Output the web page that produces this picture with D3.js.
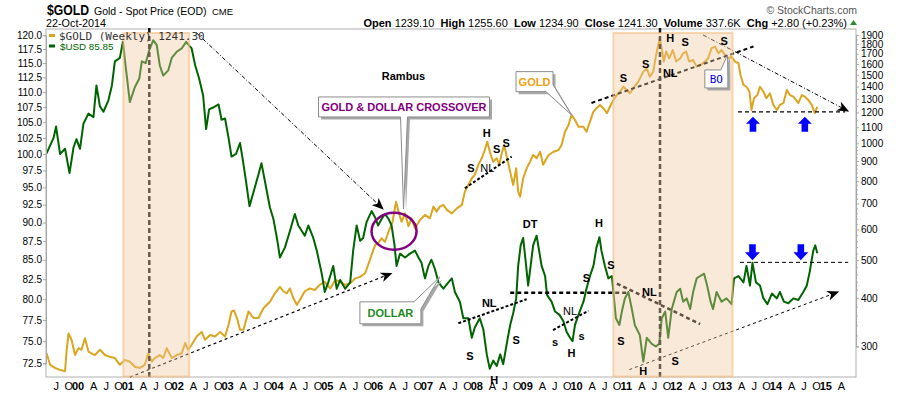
<!DOCTYPE html>
<html>
<head>
<meta charset="utf-8">
<script src="https://d3js.org/d3.v7.min.js"></script>
<style>
body { margin: 0; background: #fff; }
svg text { font-family: "Liberation Sans", Arial, sans-serif; }
</style>
</head>
<body>
<svg width="900" height="396"></svg>
<script>
// weekly gold (right log axis)
var goldDates = [1999.37,1999.44,1999.54,1999.64,1999.74,1999.77,1999.81,1999.87,1999.94,2000.01,2000.07,2000.14,2000.21,2000.27,2000.34,2000.44,2000.54,2000.64,2000.74,2000.84,2000.94,
2001.04,2001.14,2001.24,2001.34,2001.41,2001.48,2001.54,2001.64,2001.71,2001.78,2001.88,2001.98,2002.08,2002.15,2002.21,2002.28,2002.38,2002.48,2002.55,2002.65,2002.75,2002.85,2002.95,
2003.02,2003.08,2003.13,2003.20,2003.25,2003.32,2003.42,2003.52,2003.62,2003.72,2003.85,2003.95,2004.05,2004.12,2004.19,2004.25,2004.32,2004.39,2004.45,2004.55,2004.65,2004.75,2004.85,2004.95,
2005.06,2005.16,2005.26,2005.36,2005.46,2005.56,2005.66,2005.76,2005.82,2005.89,2005.96,2006.02,2006.09,2006.16,2006.23,2006.31,2006.38,2006.43,2006.49,2006.56,2006.63,2006.69,2006.76,2006.86,2006.96,
2007.06,2007.13,2007.19,2007.26,2007.33,2007.40,2007.50,2007.60,2007.70,2007.76,2007.83,2007.90,2007.96,2008.03,2008.10,2008.16,2008.21,2008.28,2008.33,2008.40,2008.45,2008.50,2008.55,2008.60,2008.67,2008.73,2008.79,2008.83,2008.87,2008.93,
2009.00,2009.07,2009.13,2009.20,2009.27,2009.33,2009.44,2009.54,2009.64,2009.70,2009.77,2009.84,2009.90,2009.97,2010.04,2010.14,2010.20,2010.27,2010.34,2010.40,2010.47,2010.54,2010.61,2010.67,2010.74,2010.81,2010.87,2010.94,
2011.01,2011.07,2011.14,2011.24,2011.34,2011.41,2011.47,2011.54,2011.59,2011.64,2011.67,2011.71,2011.75,2011.80,2011.86,2011.93,2012.00,2012.08,2012.14,2012.20,2012.26,2012.34,2012.41,2012.49,2012.58,2012.64,2012.71,2012.78,2012.85,2012.91,2012.98,
2013.05,2013.11,2013.18,2013.25,2013.29,2013.35,2013.41,2013.47,2013.51,2013.56,2013.63,2013.68,2013.75,2013.81,2013.88,2013.95,2014.02,2014.08,2014.15,2014.22,2014.28,2014.35,2014.45,2014.52,2014.58,2014.65,2014.72,2014.78,2014.83];
var goldValues = [288,269,264,261,259,291,324,312,285,297,294,315,291,288,285,294,285,282,280,269,277,
274,266,264,269,288,274,280,285,280,297,280,285,288,306,294,303,318,327,312,321,318,327,318,
341,369,371,351,331,331,369,355,355,376,391,411,427,416,411,423,399,384,395,416,423,419,432,440,
423,445,440,432,436,449,453,463,486,516,547,553,569,558,592,628,707,667,628,660,612,641,604,635,654,
641,687,667,687,694,674,660,680,694,750,781,813,829,880,915,961,1009,933,897,915,880,942,990,924,845,781,862,750,729,813,
862,897,933,915,951,880,933,951,961,990,1071,1115,1183,1148,1103,1103,1071,1137,1206,1231,1255,1231,1195,1242,1293,1331,1357,1398,
1371,1345,1385,1441,1529,1560,1484,1529,1671,1791,1862,1757,1623,1722,1655,1738,1623,1655,1705,1722,1623,1638,1575,1591,1623,1655,1757,1773,1705,1738,1688,
1655,1671,1623,1607,1499,1413,1398,1357,1218,1306,1331,1398,1357,1306,1345,1255,1218,1255,1268,1371,1331,1318,1268,1331,1318,1293,1255,1195,1241.3];

// US dollar index (left log axis)
var usdDates = [1999.37,1999.51,1999.56,1999.64,1999.74,1999.83,1999.91,1999.97,2000.04,2000.11,2000.21,2000.31,2000.37,2000.44,2000.51,2000.61,2000.68,2000.74,2000.84,2000.90,2000.96,
2001.04,2001.14,2001.23,2001.28,2001.36,2001.43,2001.51,2001.58,2001.64,2001.71,2001.81,2001.88,2001.98,2002.08,2002.17,2002.25,2002.28,2002.35,2002.43,2002.51,2002.57,2002.63,2002.71,2002.82,2002.88,2002.95,
2003.02,2003.08,2003.17,2003.25,2003.30,2003.37,2003.44,2003.52,2003.62,2003.68,2003.75,2003.85,2003.92,2004.00,2004.05,2004.15,2004.25,2004.35,2004.42,2004.55,2004.62,2004.72,2004.79,2004.89,2004.95,
2005.02,2005.12,2005.19,2005.26,2005.36,2005.46,2005.52,2005.59,2005.66,2005.72,2005.79,2005.89,2005.96,2006.02,2006.09,2006.16,2006.23,2006.29,2006.35,2006.39,2006.46,2006.56,2006.66,2006.76,2006.83,2006.89,2006.96,
2007.03,2007.09,2007.16,2007.23,2007.33,2007.43,2007.50,2007.56,2007.66,2007.73,2007.83,2007.90,2007.96,2008.06,2008.13,2008.20,2008.26,2008.33,2008.40,2008.47,2008.53,2008.60,2008.67,2008.73,2008.79,2008.83,2008.88,2008.93,2008.99,
2009.03,2009.08,2009.13,2009.20,2009.25,2009.30,2009.37,2009.41,2009.50,2009.57,2009.66,2009.74,2009.80,2009.87,2009.92,2009.97,2010.04,2010.14,2010.20,2010.27,2010.34,2010.40,2010.46,2010.50,2010.57,2010.64,2010.71,2010.74,2010.79,2010.86,2010.91,2010.97,
2011.04,2011.11,2011.17,2011.27,2011.34,2011.41,2011.51,2011.59,2011.66,2011.71,2011.78,2011.84,2011.91,2012.01,2012.08,2012.14,2012.21,2012.28,2012.34,2012.41,2012.48,2012.56,2012.62,2012.69,2012.74,2012.81,2012.91,
2013.01,2013.11,2013.16,2013.25,2013.35,2013.41,2013.48,2013.53,2013.60,2013.68,2013.75,2013.83,2013.92,2014.02,2014.08,2014.16,2014.25,2014.35,2014.45,2014.55,2014.62,2014.68,2014.75,2014.79,2014.83];
var usdValues = [100.1,102.5,104.3,100.0,100.8,97.1,101.0,102.3,100.8,104.8,106.4,105.8,111.1,107.6,106.7,108.6,111.1,115.3,115.9,118.8,114.1,
108.3,110.8,112.3,115.3,115.0,117.3,119.1,118.2,114.6,112.8,113.7,115.9,117.0,117.6,118.8,117.9,117.6,114.6,112.3,109.4,103.9,107.1,107.4,107.9,105.4,105.6,
102.5,99.6,100.0,101.7,99.4,95.9,92.3,94.3,96.9,98.6,95.9,92.1,90.5,87.5,85.3,86.6,88.8,91.2,89.6,88.2,89.6,87.9,86.2,83.2,80.9,
82.1,84.2,81.3,82.4,81.3,82.1,86.2,89.6,87.5,87.9,90.1,91.6,90.7,89.6,90.5,91.2,90.5,89.6,86.9,84.2,85.8,85.3,85.8,86.2,85.3,84.6,82.6,
84.2,85.0,83.8,82.1,81.3,82.1,82.6,80.9,79.7,77.7,77.7,75.4,76.6,77.7,76.4,73.5,71.9,72.8,72.2,73.5,72.4,74.7,76.9,78.3,80.1,84.2,86.9,87.9,84.2,
81.7,84.2,86.9,88.2,86.2,84.2,82.9,80.5,79.7,78.5,78.1,77.3,76.1,75.4,75.0,76.9,78.1,79.7,81.3,82.9,84.2,86.6,88.0,86.2,84.2,82.6,82.9,80.9,77.7,76.9,78.5,80.1,
80.9,78.8,76.9,75.7,72.7,75.4,74.7,74.4,74.7,77.7,78.5,75.4,78.8,80.9,81.3,79.7,80.1,78.8,80.9,82.6,82.9,83.2,81.7,79.7,78.8,80.9,79.7,
80.1,79.4,82.6,82.9,82.1,84.2,81.7,84.6,82.1,81.7,80.1,79.4,80.7,80.1,80.9,79.7,79.5,80.1,79.9,80.9,81.7,83.5,86.2,86.9,85.85];

var usdTicks = [72.5,75,77.5,80,82.5,85,87.5,90,92.5,95,97.5,100,102.5,105,107.5,110,112.5,115,117.5,120];
var goldTicks = [300,400,500,600,700,800,900,1000,1100,1200,1300,1400,1500,1600,1700,1800,1900];
// quarterly labels from Jul 1999 to Apr 2015
var xTickLabels = ["J","O","00","A","J","O","01","A","J","O","02","A","J","O","03","A","J","O","04","A","J","O","05","A","J","O","06","A","J","O","07",
"A","J","O","08","A","J","O","09","A","J","O","10","A","J","O","11","A","J","O","12","A","J","O","13","A","J","O","14","A","J","O","15","A"];

// annotations (year, value on gold "g" or dollar "u" scale)
var shadedSpans = [[2000.91, 2002.23], [2010.74, 2013.13]];
var markerYears = [2001.43, 2011.675];
var trendLines = [
  {a:[2002.37,120.5], b:[2006.12,91.9], s:"u", w:1, dash:"4,2,1,2", arrow:1},
  {a:[2001.04,250], b:[2006.29,462.8], s:"g", w:1.2, dash:"3,3", arrow:1},
  {a:[2010.30,1270], b:[2013.55,1775], s:"g", w:2, dash:"4,3"},
  {a:[2012.54,1900], b:[2015.45,1210], s:"g", w:1, dash:"4,2,1,2", arrow:1},
  {a:[2013.24,1204], b:[2015.39,1204], s:"g", w:1.2, dash:"4,3"},
  {a:[2013.28,84.66], b:[2015.45,84.66], s:"u", w:1, dash:"4,3"},
  {a:[2011.06,71.8], b:[2015.25,80.9], s:"u", w:1, dash:"3,3", arrow:1},
  {a:[2010.81,81.95], b:[2012.48,77.0], s:"u", w:2.5, dash:"4,3"},
  {a:[2008.67,80.8], b:[2011.01,80.8], s:"u", w:2.5, dash:"4,3"},
  {a:[2007.63,77.1], b:[2009.00,80.0], s:"u", w:2, dash:"3,2"},
  {a:[2009.53,76.3], b:[2010.24,78.6], s:"u", w:2, dash:"3,2"},
  {a:[2007.76,766], b:[2008.70,924], s:"g", w:2, dash:"3,2"}
];
var patternLabels = [
  {t:"H",yr:2008.20,v:1061,s:"g"},{t:"S",yr:2007.88,v:862,s:"g"},{t:"S",yr:2008.40,v:965,s:"g"},{t:"S",yr:2008.59,v:1000,s:"g"},
  {t:"NL",yr:2008.21,v:862,s:"g",thin:1},
  {t:"S",yr:2010.94,v:1470,s:"g"},{t:"S",yr:2011.39,v:1597,s:"g"},{t:"H",yr:2011.88,v:1863,s:"g"},{t:"S",yr:2012.18,v:1826,s:"g"},
  {t:"S",yr:2012.96,v:1834,s:"g"},{t:"NL",yr:2011.88,v:1519,s:"g"},
  {t:"NL",yr:2008.25,v:79.5,s:"u"},{t:"S",yr:2007.86,v:73.3,s:"u"},{t:"S",yr:2008.79,v:75.1,s:"u"},{t:"H",yr:2008.35,v:70.6,s:"u"},
  {t:"DT",yr:2009.07,v:89.8,s:"u"},{t:"s",yr:2009.57,v:74.9,s:"u"},{t:"NL",yr:2009.87,v:78.6,s:"u",thin:1},{t:"s",yr:2010.10,v:75.6,s:"u"},
  {t:"H",yr:2009.90,v:73.6,s:"u"},{t:"S",yr:2010.20,v:82.6,s:"u"},{t:"H",yr:2010.45,v:89.9,s:"u"},{t:"S",yr:2010.69,v:84.3,s:"u"},
  {t:"S",yr:2010.89,v:75.0,s:"u"},{t:"NL",yr:2011.46,v:80.9,s:"u"},{t:"H",yr:2011.34,v:71.6,s:"u"},{t:"S",yr:2011.98,v:72.7,s:"u"},
  {t:"Rambus",yr:2006.53,v:112.7,s:"u"}
];
var upArrows = [[2013.54,1171],[2014.58,1171]];
var downArrows = [[2013.53,84.95],[2014.50,84.95]];
var callouts = [
  {text:"GOLD & DOLLAR CROSSOVER", color:"#800080", yr:2006.53, v:91.9, s:"u", dx:-85, dy:-112, w:171, h:20, tail:"bottom", t1:82, t2:89},
  {text:"GOLD", color:"#f0a010", yr:2009.90, v:1183, s:"g", dx:-55.5, dy:-43.3, w:37, h:20, tail:"br"},
  {text:"DOLLAR", color:"#1f8a1f", yr:2007.26, v:82.8, s:"u", dx:-80, dy:25, w:61, h:22, tail:"tr"},
  {text:"BO", color:"#0000ff", yr:2013.03, v:1688, s:"g", dx:-22.7, dy:15, w:23, h:18, tail:"tr", mono:1}
];

var svg = d3.select("svg");
var L = 46, R = 856, T = 29, B = 377;

var x = d3.scaleLinear().domain([2000, 2015]).range([78, 825.75]);
var yU = d3.scaleLog().domain([72.5, 120]).range([363.3, 35.3]);
var yG = d3.scaleLog().domain([300, 1900]).range([346.4, 35]);
function yS(s, v) { return s == "g" ? yG(v) : yU(v); }

var defs = svg.append("defs");
defs.append("clipPath").attr("id", "plot").append("rect")
  .attr("x", L).attr("y", T).attr("width", R - L).attr("height", B - T);
defs.append("marker").attr("id", "arr").attr("viewBox", "0 0 12 10")
  .attr("refX", 11).attr("refY", 5).attr("markerWidth", 12).attr("markerHeight", 10)
  .attr("markerUnits", "userSpaceOnUse").attr("orient", "auto")
  .append("path").attr("d", "M0,0 L12,5 L0,10 L3.5,5 Z").attr("fill", "#000");

svg.append("rect").attr("x", L).attr("y", T).attr("width", R - L).attr("height", B - T)
  .attr("fill", "#fff").attr("stroke", "#b0b0b0");

// price lines
var gold = goldDates.map(function(d, i) { return [d, goldValues[i]]; });
var usd = usdDates.map(function(d, i) { return [d, usdValues[i]]; });

svg.append("path").datum(gold)
  .attr("d", d3.line().x(function(d) { return x(d[0]); }).y(function(d) { return yG(d[1]); }))
  .attr("fill", "none").attr("stroke", "#daa520").attr("stroke-width", 2)
  .attr("stroke-linejoin", "round").attr("clip-path", "url(#plot)");
svg.append("path").datum(usd)
  .attr("d", d3.line().x(function(d) { return x(d[0]); }).y(function(d) { return yU(d[1]); }))
  .attr("fill", "none").attr("stroke", "#006400").attr("stroke-width", 2)
  .attr("stroke-linejoin", "round").attr("clip-path", "url(#plot)");

// trend lines
svg.selectAll("line.trend").data(trendLines).enter().append("line").attr("class", "trend")
  .attr("x1", function(d) { return x(d.a[0]); }).attr("y1", function(d) { return yS(d.s, d.a[1]); })
  .attr("x2", function(d) { return x(d.b[0]); }).attr("y2", function(d) { return yS(d.s, d.b[1]); })
  .attr("stroke", "#000").attr("stroke-width", function(d) { return d.w; })
  .attr("stroke-dasharray", function(d) { return d.dash; })
  .attr("marker-end", function(d) { return d.arrow ? "url(#arr)" : null; });

svg.selectAll("line.vmark").data(markerYears).enter().append("line").attr("class", "vmark")
  .attr("x1", function(d) { return x(d); }).attr("x2", function(d) { return x(d); })
  .attr("y1", T - 1).attr("y2", B)
  .attr("stroke", "#111").attr("stroke-width", 2.5).attr("stroke-dasharray", "5,3");

// shaded periods laid over the lines
svg.selectAll("rect.span").data(shadedSpans).enter().append("rect").attr("class", "span")
  .attr("x", function(d) { return x(d[0]); }).attr("y", T + 4)
  .attr("width", function(d) { return x(d[1]) - x(d[0]); }).attr("height", B - T - 4.5)
  .attr("fill", "rgb(240,200,160)").attr("fill-opacity", 0.4)
  .attr("stroke", "rgb(245,190,130)").attr("stroke-opacity", 0.6).attr("stroke-width", 2);

// crossover ring
svg.append("ellipse").attr("cx", x(2006.34)).attr("cy", yU(88.8)).attr("rx", 22.5).attr("ry", 18.5)
  .attr("fill", "none").attr("stroke", "#800080").attr("stroke-width", 2.5);

// pattern labels
svg.selectAll("text.lab").data(patternLabels).enter().append("text").attr("class", "lab")
  .attr("x", function(d) { return x(d.yr); }).attr("y", function(d) { return yS(d.s, d.v); })
  .attr("dy", "0.35em").attr("text-anchor", "middle")
  .attr("font-size", 11).attr("font-weight", function(d) { return d.thin ? "normal" : "bold"; })
  .attr("fill", "#000").text(function(d) { return d.t; });

// blue arrows
svg.selectAll("path.up").data(upArrows).enter().append("path").attr("class", "up")
  .attr("transform", function(d) { return "translate(" + x(d[0]) + "," + yG(d[1]) + ")"; })
  .attr("d", "M0,0 L7,7 L3.3,7 L3.3,15 L-3.3,15 L-3.3,7 L-7,7 Z").attr("fill", "#0000ff");
svg.selectAll("path.down").data(downArrows).enter().append("path").attr("class", "down")
  .attr("transform", function(d) { return "translate(" + x(d[0]) + "," + yU(d[1]) + ")"; })
  .attr("d", "M0,0 L7.5,-8 L3.3,-8 L3.3,-16 L-3.3,-16 L-3.3,-8 L-7.5,-8 Z").attr("fill", "#0000ff");

// callouts
function calloutPath(c, bx, by, tx, ty) {
  var w = c.w, h = c.h;
  if (c.tail == "bottom")
    return "M" + bx + "," + by + "H" + (bx + w) + "V" + (by + h) + "H" + (bx + c.t2) + "L" + tx + "," + ty +
      "L" + (bx + c.t1) + "," + (by + h) + "H" + bx + "Z";
  if (c.tail == "br")
    return "M" + bx + "," + by + "H" + (bx + w) + "V" + (by + h - 7) + "L" + tx + "," + ty +
      "L" + (bx + w - 7) + "," + (by + h) + "H" + bx + "Z";
  return "M" + bx + "," + by + "H" + (bx + w - 7) + "L" + tx + "," + ty + "L" + (bx + w) + "," + (by + 7) +
    "V" + (by + h) + "H" + bx + "Z";
}
callouts.forEach(function(c) {
  var tx = x(c.yr), ty = yS(c.s, c.v);
  var bx = tx + c.dx, by = ty + c.dy;
  var g = svg.append("g");
  g.append("path").attr("d", calloutPath(c, bx, by, tx, ty)).attr("transform", "translate(2.5,2.5)")
    .attr("fill", "#a8a8a8");
  g.append("path").attr("d", calloutPath(c, bx, by, tx, ty))
    .attr("fill", "#fff").attr("stroke", "#8c8c8c").attr("stroke-width", 1);
  g.append("text").attr("x", bx + c.w / 2).attr("y", by + c.h / 2).attr("dy", "0.36em")
    .attr("text-anchor", "middle").attr("font-size", 11)
    .attr("font-weight", c.mono ? "normal" : "bold")
    .style("font-family", c.mono ? "'DejaVu Sans Mono', monospace" : null)
    .attr("fill", c.color).text(c.text);
});

// axes
var axL = svg.append("g").attr("transform", "translate(" + L + ",0)")
  .call(d3.axisLeft(yU).tickValues(usdTicks).tickFormat(d3.format(".1f")).tickSize(3).tickPadding(1));
var axR = svg.append("g").attr("transform", "translate(" + R + ",0)")
  .call(d3.axisRight(yG).tickValues(goldTicks).tickFormat(d3.format("d")).tickSize(3).tickPadding(2));
var minor = d3.range(320, 1000, 20).filter(function(v) { return v % 100; })
  .concat(d3.range(1050, 1900, 100));
svg.append("g").attr("transform", "translate(" + R + ",0)")
  .call(d3.axisRight(yG).tickValues(minor).tickFormat("").tickSize(2))
  .select(".domain").remove();
[axL, axR].forEach(function(a) {
  a.select(".domain").attr("stroke", "#a8a8a8");
  a.selectAll(".tick line").attr("stroke", "#a8a8a8");
  a.selectAll("text").attr("font-size", 10).attr("fill", "#000")
    .style("font-family", "'Liberation Sans', Arial, sans-serif");
});
svg.selectAll(".tick line").attr("stroke", "#a8a8a8");

svg.selectAll("text.xl").data(xTickLabels).enter().append("text").attr("class", "xl")
  .attr("x", function(d, i) { return x(1999.5 + i * 0.25) + (d.length == 2 ? 0 : 3.2); })
  .attr("y", 389.5).attr("text-anchor", "middle").attr("font-size", 11)
  .attr("font-weight", function(d) { return d.length == 2 ? "bold" : "normal"; })
  .text(function(d) { return d; });

// legend
svg.append("line").attr("x1", 49).attr("x2", 55).attr("y1", 35.5).attr("y2", 35.5)
  .attr("stroke", "#daa520").attr("stroke-width", 3);
svg.append("text").attr("x", 59).attr("y", 39.5).attr("font-size", 11).attr("fill", "#333")
  .style("font-family", "'DejaVu Sans Mono', monospace").text("$GOLD (Weekly) 1241.30");
svg.append("line").attr("x1", 49).attr("x2", 55).attr("y1", 46).attr("y2", 46)
  .attr("stroke", "#006400").attr("stroke-width", 3);
svg.append("text").attr("x", 60).attr("y", 49.5).attr("font-size", 9.8).attr("fill", "#006400")
  .text("$USD 85.85");

// header
svg.append("text").attr("x", 47).attr("y", 15).attr("font-size", 15).attr("font-weight", "bold")
  .attr("textLength", 42).attr("lengthAdjust", "spacingAndGlyphs").text("$GOLD");
svg.append("text").attr("x", 94).attr("y", 14.5).attr("font-size", 10.5).text("Gold - Spot Price (EOD)");
svg.append("text").attr("x", 212).attr("y", 14.5).attr("font-size", 9.5).text("CME");
svg.append("text").attr("x", 46).attr("y", 26.5).attr("font-size", 10.8).text("22-Oct-2014");
svg.append("text").attr("x", 857).attr("y", 14).attr("text-anchor", "end").attr("font-size", 10.5)
  .attr("fill", "#555").text("\u00a9 StockCharts.com");

var quote = [["Open", 1], [" 1239.10  ", 0], ["High", 1], [" 1255.60  ", 0], ["Low", 1], [" 1234.90  ", 0],
  ["Close", 1], [" 1241.30  ", 0], ["Volume", 1], [" 337.6K  ", 0], ["Chg", 1], [" +2.80 (+0.23%)", 0]];
var qt = svg.append("text").attr("x", 847).attr("y", 26.5).attr("text-anchor", "end")
  .attr("font-size", 11).style("white-space", "pre");
quote.forEach(function(q) {
  qt.append("tspan").attr("font-weight", q[1] ? "bold" : "normal").text(q[0]);
});
svg.append("path").attr("d", "M850,25 L853.5,20 L857,25 Z").attr("fill", "#2b8f2b");
</script>
</body>
</html>
